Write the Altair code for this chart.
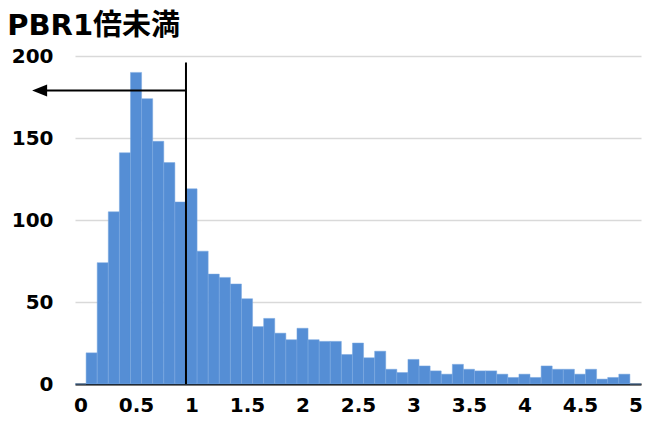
import altair as alt
import pandas as pd

# counts per 0.1-wide PBR bin; category k is labelled k/10 (k = 0..50)
counts = [0, 19, 74, 105, 141, 190, 174, 148, 135, 111,
          119, 81, 67, 65, 61, 52, 35, 40, 31, 27,
          34, 27, 26, 26, 18, 25, 16, 20, 9, 7,
          15, 11, 8, 6, 12, 9, 8, 8, 6, 4,
          6, 4, 11, 9, 9, 6, 9, 3, 4, 6,
          0]
bin_step = 0.1
x_ticks = [0, 0.5, 1, 1.5, 2, 2.5, 3, 3.5, 4, 4.5, 5]
y_ticks = [0, 50, 100, 150, 200]

# annotation: vertical marker line at PBR 1 boundary and arrow pointing left
marker_x = [0.95]
marker_top = [196]
arrow_from = [0.95]
arrow_to = [-0.369]
arrow_y = [179]

df = pd.DataFrame({
    "k": list(range(len(counts))),
    "count": counts,
})
df["center"] = df["k"] * bin_step
df["x0"] = df["center"] - bin_step / 2
df["x1"] = df["center"] + bin_step / 2

FONT = "DejaVu Sans"

xscale = alt.Scale(domain=[-0.05, 5.05], nice=False, zero=False)
yscale = alt.Scale(domain=[0, 200], nice=False)

bars = alt.Chart(df).mark_bar(
    color="#558ed5", stroke="#7aa8e0", strokeWidth=0.5
).encode(
    x=alt.X("x0:Q", scale=xscale,
            axis=alt.Axis(values=x_ticks, format=".1~f", title=None, grid=False,
                          ticks=False, domainColor="black", domainWidth=2,
                          labelFont=FONT, labelFontSize=20, labelFontWeight="bold",
                          labelColor="black", labelPadding=11, labelFlush=False)),
    x2="x1:Q",
    y=alt.Y("count:Q", scale=yscale,
            axis=alt.Axis(values=y_ticks, title=None, grid=True, gridColor="#d9d9d9",
                          gridWidth=1.3, ticks=False, domain=False,
                          labelFont=FONT, labelFontSize=20, labelFontWeight="bold",
                          labelColor="black", labelPadding=22)),
    y2=alt.datum(0),
)

vline = alt.Chart(pd.DataFrame({"x": marker_x, "top": marker_top, "bottom": [0]})).mark_rule(
    color="black", strokeWidth=2
).encode(x=alt.X("x:Q", scale=xscale), y=alt.Y("bottom:Q", scale=yscale), y2="top:Q")

arrow_line = alt.Chart(pd.DataFrame({"a": arrow_from, "b": arrow_to, "y": arrow_y})).mark_rule(
    color="black", strokeWidth=2
).encode(x=alt.X("a:Q", scale=xscale), x2="b:Q", y=alt.Y("y:Q", scale=yscale))

arrow_head = alt.Chart(pd.DataFrame({"b": arrow_to, "y": arrow_y})).mark_point(
    shape="M-1,0L1,-0.8L1,0.8Z", filled=True, color="black", size=225, opacity=1
).encode(x=alt.X("b:Q", scale=xscale), y=alt.Y("y:Q", scale=yscale))

chart = alt.layer(bars, vline, arrow_line, arrow_head).properties(
    width=566, height=328,
    autosize=alt.AutoSizeParams(type="none"),
    padding={"left": 67, "top": 48, "right": 4, "bottom": 36},
    title=alt.TitleParams(text="PBR1倍未満", anchor="start", dx=-4, dy=30, offset=12,
                          font="DejaVu Sans, Noto Sans CJK JP", fontSize=29,
                          fontWeight="bold", color="black", baseline="alphabetic"),
).configure_view(stroke=None)

chart.save("out.html", embed_options={"renderer": "svg", "actions": False})
